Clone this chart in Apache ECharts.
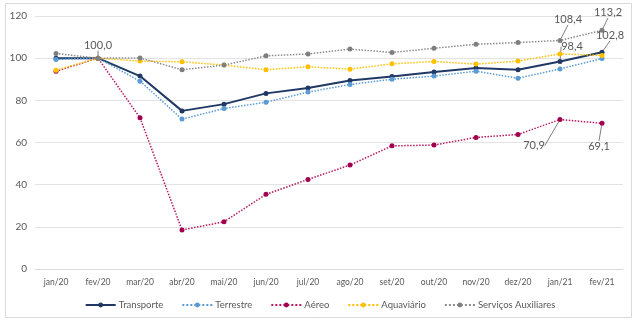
<!DOCTYPE html>
<html><head><meta charset="utf-8">
<script src="https://cdn.jsdelivr.net/npm/echarts@6/dist/echarts.min.js"></script>
<style>html,body{margin:0;padding:0;background:#fff}#c{width:640px;height:323px}</style>
</head><body><div id="c"></div>
<script>
const categories = ['jan/20','fev/20','mar/20','abr/20','mai/20','jun/20','jul/20','ago/20','set/20','out/20','nov/20','dez/20','jan/21','fev/21'];
const transporte = [100.0,100.0,91.5,75.0,78.2,83.3,85.9,89.4,91.3,93.4,95.3,94.5,98.4,102.8];
const terrestre  = [99.4,100.0,89.1,71.1,76.1,79.1,83.9,87.5,90.0,91.5,93.8,90.5,94.9,99.8];
const aereo      = [93.8,100.0,71.7,18.5,22.4,35.4,42.5,49.3,58.4,58.8,62.4,63.8,70.9,69.1];
const aquaviario = [94.3,100.0,98.6,98.3,96.7,94.5,95.9,94.8,97.3,98.4,97.2,98.6,102.0,101.3];
const servicos   = [102.2,100.0,100.1,94.5,96.7,101.1,102.0,104.3,102.7,104.7,106.6,107.4,108.4,113.2];
const yTicks = [0,20,40,60,80,100,120];

const FONT = 'Lato';
const TXT = '#595959';
function fmt(v){ return v.toFixed(1).replace('.', ','); }

const labelSpec = {
  'Transporte': {1:{pos:'top',dx:0,dy:0}, 12:{pos:'top',dx:12,dy:-2}, 13:{pos:'top',dx:8,dy:-4}},
  'Aéreo': {12:{pos:'bottom',dx:-26,dy:13}, 13:{pos:'bottom',dx:-3,dy:10}},
  'Serviços Auxiliares': {12:{pos:'top',dx:8,dy:-8}, 13:{pos:'top',dx:6,dy:-5}}
};

function mkData(name, arr){
  const spec = labelSpec[name] || {};
  return arr.map((v,i)=>{
    if(spec[i]) return {value:v, label:{show:true, position:spec[i].pos, formatter:()=>fmt(v)}};
    return v;
  });
}
function mkLayout(name){
  const spec = labelSpec[name] || {};
  return function(p){ const s = spec[p.dataIndex]; return s ? {dx:s.dx, dy:s.dy} : {}; };
}
function mkSeries(name, arr, color, type, width, symColor){
  return {
    name, type:'line', data: mkData(name, arr),
    symbol:'circle', symbolSize:5, showSymbol:true,
    lineStyle:{color, width, type},
    itemStyle:{color: symColor || color},
    label:{show:false, color:TXT, fontFamily:FONT, fontSize:11},
    labelLine:{show:true, lineStyle:{color:'#7f7f7f', width:1}},
    labelLayout: mkLayout(name),
    emphasis:{disabled:true},
    animation:false
  };
}

const chart = echarts.init(document.getElementById('c'));
chart.setOption({
  backgroundColor:'#fff',
  animation:false,
  textStyle:{fontFamily:FONT},
  graphic:[{type:'rect', shape:{x:5.5,y:3.5,width:626,height:314}, style:{fill:'none', stroke:'#d9d9d9', lineWidth:1}, silent:true, z:-1}],
  grid:{left:35, right:17, top:16, bottom:54},
  xAxis:{type:'category', data:categories, boundaryGap:true,
    axisLine:{lineStyle:{color:'#d9d9d9'}}, axisTick:{show:false},
    axisLabel:{color:TXT, fontFamily:FONT, fontSize:8.5, margin:9}},
  yAxis:{type:'value', min:0, max:120, interval:20,
    axisLine:{show:false}, axisTick:{show:false},
    splitLine:{lineStyle:{color:'#e3e3e3'}},
    axisLabel:{color:TXT, fontFamily:FONT, fontSize:10, margin:8,
      formatter:v=> yTicks.includes(v) ? String(v) : ''}},
  legend:{bottom:8, left:'center', itemGap:18, itemWidth:30, itemHeight:6,
    textStyle:{color:TXT, fontFamily:FONT, fontSize:9.5, padding:[0,0,0,-2]},
    data:['Transporte','Terrestre','Aéreo','Aquaviário','Serviços Auxiliares']},
  series:[
    mkSeries('Transporte', transporte, '#1f3864', 'solid', 2),
    mkSeries('Terrestre', terrestre, '#5b9bd5', 'dotted', 1.5),
    mkSeries('Aéreo', aereo, '#b8195f', 'dotted', 1.5, '#a0004f'),
    mkSeries('Aquaviário', aquaviario, '#ffc000', 'dotted', 1.5),
    mkSeries('Serviços Auxiliares', servicos, '#8c8c8c', 'dotted', 1.5, '#7f7f7f')
  ]
});
</script></body></html>
